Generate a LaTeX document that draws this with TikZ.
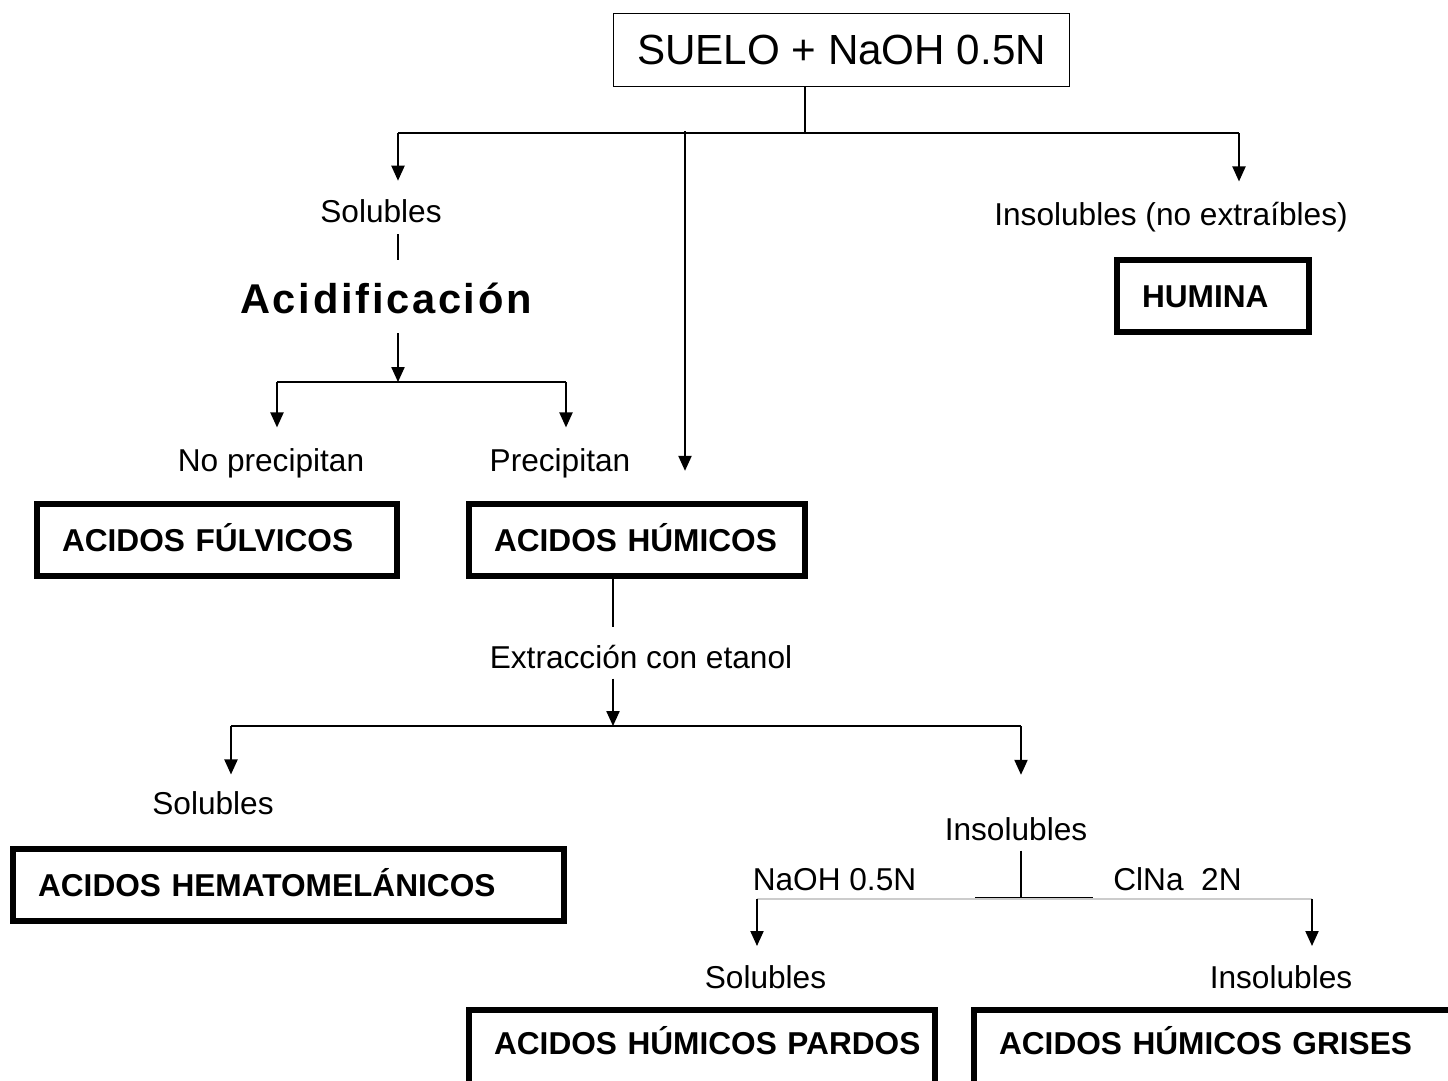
\documentclass[tikz,border=0pt]{standalone}
\usepackage{fontspec}
\setmainfont{Liberation Sans}
\newfontfamily\spacedfont[LetterSpace=6.5]{Liberation Sans}
\usetikzlibrary{arrows.meta}

\begin{document}
\begin{tikzpicture}[x=0.02cm, y=-0.02cm, line width=0.85pt,
  >={Triangle[width=7.5pt,length=8.5pt]},
  every node/.style={font=\fontsize{18}{21}\selectfont},
  lbl/.style={inner sep=0pt, text height=12.9pt, text depth=0pt},
  fracbox/.style={draw, line width=3.8pt, inner xsep=0.5cm, inner ysep=0pt, minimum height=1.44cm,
    align=left, text height=12.9pt, text depth=0pt, font=\fontsize{18}{21}\selectfont\bfseries}]
  \path[use as bounding box] (0,0) rectangle (1448,1080);
  \clip (0,0) rectangle (1448,1080);

  \node[draw, minimum width=9.12cm, minimum height=1.46cm, font=\fontsize{24}{28}\selectfont] (suelo) at (841.5,50) {SUELO + NaOH 0.5N};
  \node[lbl] (sol1) at (381,211) {Solubles};
  \node[lbl] (insol1) at (1171,214) {Insolubles (no extraíbles)};
  \node[inner sep=0pt, text height=17pt, text depth=0pt, font=\fontsize{23.7}{28}\spacedfont\bfseries] (acid) at (386,298.3) {Acidificación};
  \node[fracbox, text width=2.84cm] (humina) at (1213,296) {HUMINA};
  \node[lbl] (noprec) at (271,460) {No precipitan};
  \node[lbl] (prec) at (560,460) {Precipitan};
  \node[fracbox, text width=6.2cm] (ful) at (217,540) {ACIDOS FÚLVICOS};
  \node[fracbox, text width=5.72cm] (hum) at (637,540) {ACIDOS HÚMICOS};
  \node[lbl] (ext) at (641,657) {Extracción con etanol};
  \node[lbl] (sol2) at (213,803) {Solubles};
  \node[fracbox, text width=10.02cm] (hem) at (288.5,885) {ACIDOS HEMATOMELÁNICOS};
  \node[lbl] (insol2) at (1016,829) {Insolubles};
  \node[lbl] (naoh) at (834.5,879) {NaOH 0.5N};
  \node[lbl] (clna) at (1177.5,879) {ClNa\ \ 2N};
  \node[lbl] (sol3) at (765.5,977) {Solubles};
  \node[lbl] (insol3) at (1281,977) {Insolubles};
  \node[fracbox, text width=8.32cm, minimum height=1.8cm, text depth=13.6pt] (pardos) at (702,1055) {\mbox{ACIDOS HÚMICOS PARDOS}};
  \node[fracbox, text width=9.4cm, minimum height=1.8cm, text depth=13.6pt] (grises) at (1234,1055) {\mbox{ACIDOS HÚMICOS GRISES}};

  \coordinate (j0) at (805,134);
  \coordinate (jl) at (398,133);
  \coordinate (jr) at (1239,133);
  \coordinate (jm) at (685,131);
  \coordinate (ja) at (398,382);
  \coordinate (jal) at (277,382);
  \coordinate (jar) at (566,382);
  \coordinate (je) at (613,726);
  \coordinate (jel) at (231,726);
  \coordinate (jer) at (1021,726);
  \coordinate (js) at (1021,898);
  \coordinate (tl) at (975,898);
  \coordinate (tr) at (1093,898);
  \coordinate (gl) at (757,899);
  \coordinate (gr) at (1312,899);

  \draw (suelo.south -| j0) -- (j0);
  \draw (jl) -- (jr);
  \draw[->, shorten >=10.4pt] (jl) -- (sol1.north -| jl);
  \draw[->, shorten >=11.7pt] (jr) -- (insol1.north -| jr);
  \draw[->, shorten >=17pt] (jm) -- (hum.north -| jm);
  \draw[shorten <=6.4pt, shorten >=13pt] (sol1.south -| ja) -- (acid.north -| ja);
  \draw[->, shorten <=11pt] (acid.south -| ja) -- (ja);
  \draw (jal) -- (jar);
  \draw[->, shorten >=11.7pt] (jal) -- (noprec.north -| jal);
  \draw[->, shorten >=11.7pt] (jar) -- (prec.north -| jar);
  \draw[shorten >=10pt] (hum.south -| je) -- (ext.north -| je);
  \draw[->, shorten <=5.4pt] (ext.south -| je) -- (je);
  \draw (jel) -- (jer);
  \draw[->, shorten >=9.4pt] (jel) -- (sol2.north -| jel);
  \draw[->, shorten >=24pt] (jer) -- (insol2.north -| jer);
  \draw[shorten <=5.4pt] (insol2.south -| js) -- (js);
  \draw[line width=1.4pt] (tl) -- (tr);
  \draw[gray!40] (gl) -- (gr);
  \draw[->, shorten >=10.8pt] (gl) -- (sol3.north -| gl);
  \draw[->, shorten >=10.8pt] (gr) -- (insol3.north -| gr);
\end{tikzpicture}
\end{document}
